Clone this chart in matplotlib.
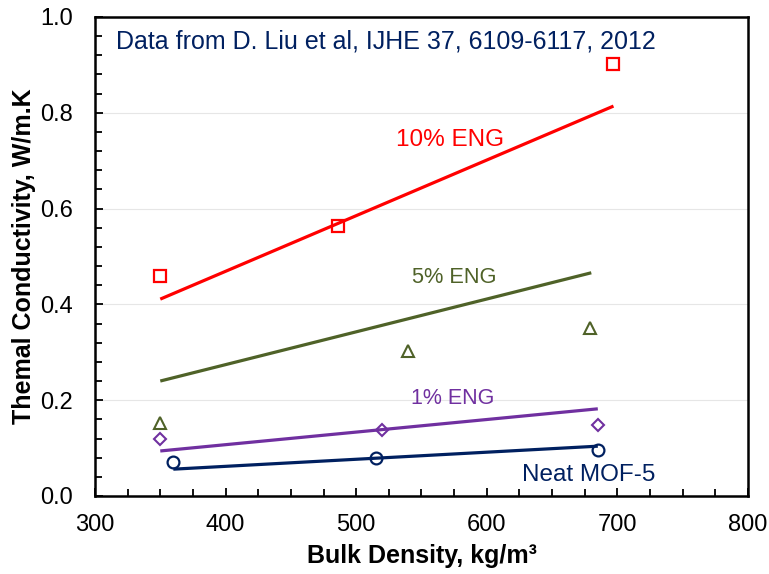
import matplotlib
matplotlib.use("Agg")
import matplotlib.pyplot as plt
from matplotlib.ticker import MultipleLocator, FormatStrFormatter

plt.rcParams['font.family'] = ['Liberation Sans', 'DejaVu Sans']

# measured points
x10 = [350, 486, 697]
y10 = [0.459, 0.564, 0.902]
x5 = [350, 540, 679]
y5 = [0.152, 0.303, 0.351]
x1 = [350, 520, 685]
y1 = [0.119, 0.138, 0.148]
x0 = [360, 515, 685]
y0 = [0.071, 0.079, 0.096]

# model lines (endpoints)
lx10 = [350, 697]
ly10 = [0.411, 0.814]
lx5 = [350, 680]
ly5 = [0.240, 0.466]
lx1 = [350, 685]
ly1 = [0.094, 0.182]
lx0 = [360, 685]
ly0 = [0.056, 0.104]

c10 = '#FF0000'
c5 = '#4F6228'
c1 = '#7030A0'
c0 = '#002060'

fig = plt.figure(figsize=(7.69, 5.74), dpi=100)
ax = fig.add_axes([0.1235, 0.1359, 0.8492, 0.8345])

ax.plot(lx10, ly10, color=c10, lw=2.3, solid_capstyle='butt')
ax.plot(lx5, ly5, color=c5, lw=2.3, solid_capstyle='butt')
ax.plot(lx1, ly1, color=c1, lw=2.3, solid_capstyle='butt')
ax.plot(lx0, ly0, color=c0, lw=2.3, solid_capstyle='butt')

ax.plot(x10, y10, ls='none', marker='s', ms=8.5, mfc='none', mec=c10, mew=1.6)
ax.plot(x5, y5, ls='none', marker='^', ms=8, mfc='none', mec=c5, mew=1.5)
ax.plot(x1, y1, ls='none', marker='D', ms=6.5, mfc='none', mec=c1, mew=1.5)
ax.plot(x0, y0, ls='none', marker='o', ms=8.5, mfc='none', mec=c0, mew=1.6)

ax.set_xlim(300, 800)
ax.set_ylim(0, 1.0)
ax.xaxis.set_major_locator(MultipleLocator(100))
ax.xaxis.set_minor_locator(MultipleLocator(25))
ax.yaxis.set_major_locator(MultipleLocator(0.2))
ax.yaxis.set_minor_locator(MultipleLocator(0.04))
ax.yaxis.set_major_formatter(FormatStrFormatter('%.1f'))
ax.grid(axis='y', which='major', color='#E6E6E6', lw=0.8)
ax.set_axisbelow(True)

ax.tick_params(which='both', direction='in', top=False, right=False, width=1.3, labelsize=17, colors='black')
ax.tick_params(which='major', length=6)
ax.tick_params(which='minor', length=5)
ax.tick_params(axis='x', pad=13)
ax.tick_params(axis='y', pad=16)
for s in ax.spines.values():
    s.set_linewidth(1.8)

ax.set_xlabel('Bulk Density, kg/m³', fontsize=18, fontweight='bold')
ax.set_ylabel('Themal Conductivity, W/m.K', fontsize=18, fontweight='bold')
ax.xaxis.label.set_va('center')
ax.yaxis.label.set_va('center')
ax.xaxis.set_label_coords(0.5, -0.125)
ax.yaxis.set_label_coords(-0.108, 0.5)

ax.text(316, 0.948, 'Data from D. Liu et al, IJHE 37, 6109-6117, 2012', color=c0, fontsize=18, va='center', ha='left')
ax.text(530.5, 0.743, '10% ENG', color=c10, fontsize=17.5, va='center', ha='left')
ax.text(542.7, 0.457, '5% ENG', color=c5, fontsize=15.7, va='center', ha='left')
ax.text(542, 0.2025, '1% ENG', color=c1, fontsize=15.5, va='center', ha='left')
ax.text(627, 0.044, 'Neat MOF-5', color=c0, fontsize=17.5, va='center', ha='left')

fig.savefig('out.png', dpi=100)
